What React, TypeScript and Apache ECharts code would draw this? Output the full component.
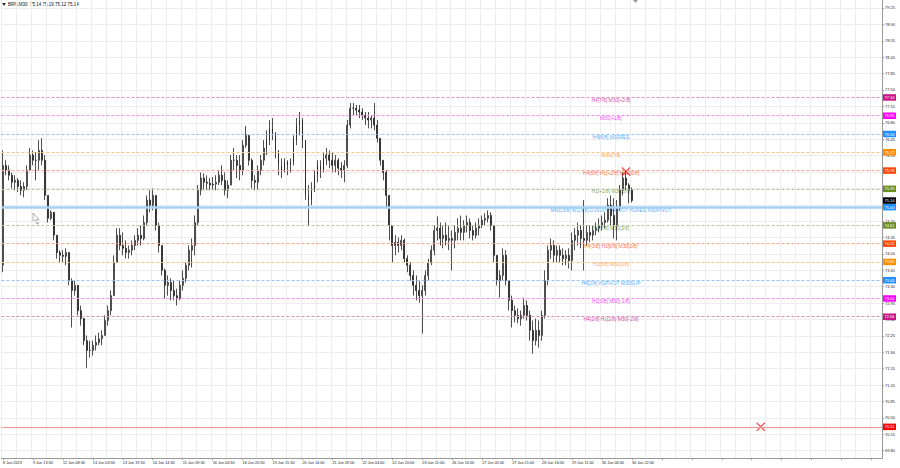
import React, { useEffect, useRef } from "react";
import * as echarts from "echarts";

// ---- data ----
const symbolTitle = "BRN,M30";
const titleValues = ["75.14", "75.19", "75.12", "75.14"];

const timeLabels = [
  "8 Jun 2023", "9 Jun 13:30", "12 Jun 08:30", "13 Jun 03:30", "13 Jun 19:30",
  "14 Jun 14:30", "15 Jun 09:30", "16 Jun 04:30", "16 Jun 20:30", "19 Jun 15:30",
  "20 Jun 14:00", "21 Jun 09:00", "22 Jun 04:00", "22 Jun 20:00", "23 Jun 15:00",
  "26 Jun 10:00", "27 Jun 05:00", "27 Jun 21:00", "28 Jun 16:00", "29 Jun 11:00",
  "30 Jun 06:00", "30 Jun 22:00",
];

const priceTicks = [
  79.25, 78.9, 78.55, 78.2, 77.85, 77.5, 77.15, 76.8, 76.45, 76.1, 75.75, 75.4,
  75.05, 74.7, 74.35, 74.0, 73.65, 73.3, 72.95, 72.6, 72.25, 71.9, 71.55, 71.2,
  70.85, 70.5, 70.15, 69.8,
];

const firstOpen = 73.76;

const closes = [
  75.89, 75.79, 75.68, 75.53, 75.57, 75.44, 75.36, 75.44, 75.79, 76.11,
  76.0, 76.0, 76.21, 76.0, 75.25, 74.76, 74.89, 74.4, 74.03, 73.97,
  73.95, 74.03, 73.43, 73.22, 73.33, 72.79, 72.62, 72.15, 71.94, 71.94,
  72.05, 72.11, 72.19, 72.26, 72.58, 72.79, 73.11, 73.82, 74.4, 74.18,
  74.12, 74.03, 74.08, 74.18, 74.29, 74.4, 74.33, 74.67, 75.15, 75.04,
  75.25, 74.61, 74.18, 73.65, 73.33, 73.39, 73.22, 73.11, 73.05, 73.33,
  73.48, 73.76, 74.08, 74.18, 74.67, 75.36, 75.62, 75.53, 75.51, 75.47,
  75.49, 75.53, 75.68, 75.57, 75.36, 75.47, 76.0, 76.0, 75.89, 75.79,
  76.32, 76.53, 76.0, 75.57, 75.53, 75.79, 76.0, 76.26, 76.43, 76.68,
  76.53, 76.21, 75.89, 75.79, 75.96, 75.89, 75.96, 76.43, 76.75, 76.86,
  76.43, 75.25, 75.15, 75.36, 75.68, 75.89, 75.79, 76.04, 76.11, 76.0,
  75.89, 76.0, 75.83, 75.79, 75.89, 76.75, 77.11, 77.11, 77.07, 77.03,
  76.96, 76.9, 76.86, 76.9, 76.75, 76.47, 76.0, 75.74, 75.25, 74.61,
  74.18, 74.25, 74.18, 74.29, 73.9, 73.76, 73.54, 73.33, 73.22, 73.11,
  73.22, 73.54, 73.82, 74.08, 74.5, 74.55, 74.33, 74.4, 74.29, 74.33,
  74.29, 74.46, 74.55, 74.46, 74.61, 74.67, 74.5, 74.4, 74.55, 74.61,
  74.72, 74.76, 74.82, 74.61, 73.97, 73.43, 73.54, 73.97, 73.43, 73.01,
  72.79, 72.69, 72.62, 72.69, 72.9, 72.69, 72.37, 72.15, 72.37, 72.26,
  72.69, 73.43, 74.08, 74.18, 73.97, 74.08, 73.97, 73.9, 73.97, 73.86,
  74.29, 74.4, 74.5, 74.33, 74.29, 74.46, 74.4, 74.5, 74.55, 74.61,
  74.67, 74.72, 75.04, 74.82, 74.61, 74.97, 75.36, 75.62, 75.47, 75.36,
  75.14,
];

const highs = [
  76.21, 76.0, 75.89, 75.74, 75.68, 75.62, 75.57, 75.53, 75.89, 76.26,
  76.21, 76.17, 76.43, 76.47, 76.11, 75.25, 74.93, 74.55, 74.4, 74.08,
  74.08, 74.12, 74.03, 73.48, 73.43, 73.33, 72.9, 72.58, 72.26, 72.15,
  72.15, 72.26, 72.32, 72.37, 72.69, 72.9, 73.22, 73.97, 74.55, 74.55,
  74.46, 74.29, 74.18, 74.29, 74.4, 74.55, 74.61, 74.82, 75.25, 75.36,
  75.4, 75.25, 74.67, 74.18, 73.69, 73.54, 73.48, 73.43, 73.26, 73.43,
  73.65, 73.82, 74.18, 74.33, 74.82, 75.47, 75.74, 75.72, 75.68, 75.62,
  75.64, 75.68, 75.79, 75.89, 75.74, 75.57, 76.11, 76.26, 76.11, 76.11,
  76.43, 76.73, 76.53, 76.04, 75.68, 75.89, 76.11, 76.43, 76.64, 76.86,
  76.9, 76.6, 76.21, 76.04, 76.04, 76.0, 76.04, 76.53, 76.9, 77.03,
  76.9, 76.43, 75.47, 75.53, 75.79, 76.0, 76.0, 76.17, 76.26, 76.21,
  76.17, 76.11, 76.04, 75.96, 76.0, 76.86, 77.22, 77.22, 77.18, 77.18,
  77.11, 77.03, 77.03, 76.96, 77.22, 76.86, 76.47, 76.0, 75.79, 75.25,
  74.61, 74.4, 74.35, 74.4, 74.33, 73.97, 73.82, 73.65, 73.54, 73.43,
  73.33, 73.65, 73.9, 74.18, 74.61, 74.8, 74.67, 74.61, 74.67, 74.61,
  74.5, 74.61, 74.76, 74.82, 74.72, 74.82, 74.76, 74.61, 74.67, 74.76,
  74.82, 74.87, 74.93, 74.89, 74.61, 73.97, 73.65, 74.12, 74.08, 73.43,
  73.11, 72.9, 72.84, 72.79, 73.07, 73.01, 72.79, 72.58, 72.62, 72.58,
  72.79, 73.65, 74.18, 74.33, 74.29, 74.18, 74.18, 74.12, 74.08, 74.12,
  74.46, 74.55, 74.67, 74.61, 75.15, 74.61, 74.61, 74.61, 74.67, 74.76,
  74.82, 74.89, 75.19, 75.25, 75.19, 75.15, 75.47, 75.74, 75.79, 75.51,
  75.42,
];

const lows = [
  73.61, 75.68, 75.57, 75.4, 75.36, 75.32, 75.25, 75.21, 75.36, 75.79,
  75.89, 75.57, 75.79, 75.89, 75.15, 74.67, 74.72, 74.29, 73.9, 73.82,
  73.82, 73.76, 73.33, 72.43, 73.11, 72.69, 72.47, 72.05, 71.57, 71.79,
  71.83, 71.94, 72.05, 72.05, 72.26, 72.47, 72.69, 73.11, 73.82, 74.08,
  73.97, 73.9, 73.9, 73.97, 74.08, 74.18, 74.18, 74.29, 74.61, 74.89,
  74.93, 74.5, 74.03, 73.54, 73.05, 73.11, 73.01, 73.01, 72.9, 73.01,
  73.22, 73.39, 73.65, 73.71, 73.97, 74.61, 75.25, 75.36, 75.36, 75.36,
  75.36, 75.36, 75.47, 75.47, 75.25, 75.19, 75.47, 75.79, 75.62, 75.57,
  75.68, 76.26, 75.89, 75.4, 75.36, 75.36, 75.68, 75.89, 76.11, 76.32,
  76.43, 76.04, 75.68, 75.62, 75.74, 75.68, 75.74, 75.89, 76.32, 76.53,
  76.26, 75.15, 74.59, 75.04, 75.32, 75.53, 75.62, 75.74, 75.89, 75.83,
  75.74, 75.74, 75.68, 75.62, 75.53, 75.83, 76.68, 76.96, 76.96, 76.9,
  76.86, 76.75, 76.68, 76.68, 76.64, 76.38, 75.89, 75.57, 75.0, 74.29,
  73.82, 73.97, 74.03, 74.08, 73.82, 73.61, 73.43, 73.11, 73.01, 72.96,
  72.3, 73.11, 73.43, 73.76, 73.97, 74.29, 74.18, 74.12, 74.18, 74.08,
  73.65, 74.12, 74.29, 74.29, 74.29, 74.46, 74.33, 74.29, 74.33, 74.4,
  74.55, 74.61, 74.67, 74.5, 73.82, 73.33, 73.07, 73.43, 73.33, 72.79,
  72.43, 72.54, 72.52, 72.47, 72.62, 72.58, 72.15, 71.87, 72.05, 72.0,
  72.15, 72.62, 73.33, 73.9, 73.82, 73.82, 73.82, 73.76, 73.76, 73.69,
  73.65, 74.08, 74.18, 74.12, 73.65, 74.18, 74.25, 74.29, 74.4, 74.46,
  74.5, 74.55, 74.67, 74.61, 74.33, 74.29, 74.93, 75.25, 75.36, 75.08,
  75.1,
];

const levelPrices = [77.34, 76.95, 76.56, 76.17, 75.78, 75.39, 75.0, 74.61, 74.22, 73.83, 73.44, 73.05, 72.66];
const levelTexts = [
  "H4[7/8] M30[+2/8]",
  "M30[+1/8]",
  "H4[6/8] M30RES",
  "M30[7/8]",
  "H4[5/8] H1[+2/8] M30[6/8]",
  "H1[+1/8] M30[5/8]",
  "MN1[3/8] W1[3/8] D1SUP H4PIVOT H1RES M30PIVOT",
  "H1[7/8] M30[3/8]",
  "H4[3/8] H1[6/8] M30[2/8]",
  "H1[5/8] M30[1/8]",
  "H4[2/8] H1PIVOT M30SUP",
  "H1[3/8] M30[-1/8]",
  "H4[1/8] H1[2/8] M30[-2/8]",
];
const currentPrice = 75.14;
const targetPrice = 70.31;
// [bar index, price]
const crossMarks = [
  [208, 75.76],
  [253, 70.31],
];
const labelBarIndex = 203;
const totalBars = 294;

// ---- styles ----
const levelColors = [
  "#c71585", "#ff00ff", "#1e90ff", "#ff8c00", "#ff4500", "#6b8e23", "#1e90ff",
  "#6b8e23", "#ff4500", "#ff8c00", "#1e90ff", "#ff00ff", "#c71585",
];
const levelLineColors = [
  "#e08cc2", "#f98cf9", "#92c6f8", "#f9c488", "#f9a488", "#b8c898", "#a6d0f8",
  "#b8c898", "#f9a488", "#f9c488", "#92c6f8", "#f98cf9", "#e08cc2",
];
const mainLevelIndex = 6;
const FONT = "Liberation Sans";

export default function App() {
  const ref = useRef<HTMLDivElement>(null);

  useEffect(() => {
    document.body.style.margin = "0";
    const chart = echarts.init(ref.current as HTMLDivElement, null, { renderer: "svg" });

    const categories = Array.from({ length: totalBars }, (_, i) =>
      i % 10 === 0 && timeLabels[i / 10] ? timeLabels[i / 10] : ""
    );
    const candles = closes.map((c, i) => [
      i === 0 ? firstOpen : closes[i - 1],
      c,
      lows[i],
      highs[i],
    ]);

    const boxLabel = (bg: string, v: number) => ({
      show: true,
      position: "end",
      distance: 1,
      formatter: v.toFixed(2),
      color: "#fff",
      backgroundColor: bg,
      padding: [1.5, 1.5, 1, 1.5],
      fontSize: 4,
      fontFamily: FONT,
    });

    const markLines: any[] = levelPrices.map((p, i) => ({
      yAxis: p,
      lineStyle:
        i === mainLevelIndex
          ? { color: levelLineColors[i], type: "solid", width: 2.5 }
          : { color: levelLineColors[i], type: [3, 2], width: 1 },
      label: boxLabel(levelColors[i], p),
    }));
    markLines.push({
      yAxis: currentPrice,
      lineStyle: { color: "rgba(0,0,0,0)", width: 0 },
      label: boxLabel("#000000", currentPrice),
    });
    markLines.push({
      yAxis: targetPrice,
      lineStyle: { color: "#f49a9a", type: "solid", width: 1 },
      label: boxLabel("#ff0000", targetPrice),
    });

    const xPath =
      "path://M1,0 L5,4 L9,0 L10,1 L6,5 L10,9 L9,10 L5,6 L1,10 L0,9 L4,5 L0,1 Z";

    chart.setOption({
      animation: false,
      backgroundColor: "#ffffff",
      grid: { left: 0, right: 18, top: 0, bottom: 10 },
      xAxis: {
        type: "category",
        data: categories,
        boundaryGap: true,
        axisLine: { show: true, lineStyle: { color: "#9a9a9a", width: 1 } },
        axisTick: { show: true, interval: 9, length: 2, alignWithLabel: true, lineStyle: { color: "#9a9a9a" } },
        axisLabel: {
          interval: 9,
          align: "left",
          fontSize: 3.8,
          color: "#222",
          margin: 2.5,
          fontFamily: FONT,
        },
        splitLine: { show: true, interval: 4, lineStyle: { color: "#ededed", width: 1 } },
      },
      yAxis: {
        type: "value",
        position: "right",
        min: 69.645,
        max: 79.42,
        scale: true,
        axisLine: { show: true, lineStyle: { color: "#9a9a9a", width: 1 } },
        axisTick: { show: true, customValues: priceTicks, length: 2, lineStyle: { color: "#9a9a9a" } },
        axisLabel: {
          customValues: priceTicks,
          formatter: (v: number) => v.toFixed(2),
          fontSize: 4,
          color: "#222",
          margin: 3,
          fontFamily: FONT,
        },
        splitLine: { show: true, lineStyle: { color: "#ededed", width: 1 } },
      },
      series: [
        {
          type: "scatter",
          z: 1,
          symbolSize: 0,
          silent: true,
          data: levelPrices.map((p, i) => ({
            value: [labelBarIndex, p],
            label: { color: levelColors[i] },
          })),
          label: {
            show: true,
            position: "bottom",
            distance: 0.5,
            fontSize: 4.9,
            fontFamily: FONT,
            formatter: (prm: any) => levelTexts[prm.dataIndex],
          },
          markLine: {
            silent: true,
            symbol: ["none", "none"],
            data: markLines,
          },
        },
        {
          type: "candlestick",
          z: 2,
          data: candles,
          barWidth: 1.4,
          itemStyle: {
            color: "#ffffff",
            color0: "#222222",
            borderColor: "#222222",
            borderColor0: "#222222",
            borderWidth: 0.8,
          },
        },
        {
          type: "scatter",
          z: 3,
          symbol: xPath,
          symbolSize: 9,
          itemStyle: { color: "#ff2020" },
          data: crossMarks,
        },
      ],
      graphic: [
        {
          type: "polygon",
          shape: { points: [[2, 3], [6, 3], [4, 6]] },
          style: { fill: "#333" },
        },
        {
          type: "text",
          left: 8,
          top: 2,
          style: {
            text: symbolTitle + "  " + titleValues.join(" "),
            fontSize: 4.5,
            fontFamily: FONT,
            fill: "#111",
          },
        },
        {
          type: "polygon",
          shape: { points: [[633, 0], [638, 0], [635.5, 3]] },
          style: { fill: "#999" },
        },
        {
          type: "polygon",
          shape: { points: [[33, 213], [33, 222], [35, 220], [37, 224], [38.5, 223.5], [36.5, 219.5], [39, 219.5]] },
          style: { fill: "#fff", stroke: "#777", lineWidth: 0.6 },
        },
      ],
    });

    return () => chart.dispose();
  }, []);

  return <div ref={ref} style={{ width: 900, height: 468 }} />;
}
